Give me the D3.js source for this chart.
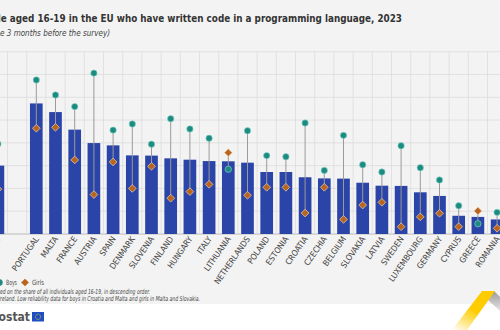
<!DOCTYPE html>
<html>
<head>
<meta charset="utf-8">
<script src="https://cdn.jsdelivr.net/npm/d3@7"></script>
<style>
  body { margin: 0; background: #fff; }
  svg { display: block; }
  text { font-family: 'Liberation Sans Narrow', 'DejaVu Sans Condensed', sans-serif; fill: #444; }
</style>
</head>
<body>
<svg width="500" height="330"></svg>
<script>
// chart data (share of individuals aged 16-19, %)
const countries = ['EU', '', 'PORTUGAL', 'MALTA', 'FRANCE', 'AUSTRIA', 'SPAIN', 'DENMARK', 'SLOVENIA',
  'FINLAND', 'HUNGARY', 'ITALY', 'LITHUANIA', 'NETHERLANDS', 'POLAND', 'ESTONIA', 'CROATIA',
  'CZECHIA', 'BELGIUM', 'SLOVAKIA', 'LATVIA', 'SWEDEN', 'LUXEMBOURG', 'GERMANY', 'CYPRUS',
  'GREECE', 'ROMANIA'];
const totalValues = [30.0, null, 57.3, 53.5, 45.8, 39.9, 38.9, 34.5, 34.4, 33.2, 32.6, 32.0, 31.9,
  31.3, 27.2, 27.2, 24.9, 24.4, 24.3, 22.5, 21.2, 21.1, 18.3, 16.7, 8.0, 7.5, 6.4];
const boysValues = [39.5, null, 67.6, 61.0, 55.9, 70.6, 45.6, 48.3, 39.4, 50.6, 46.1, 42.0, 28.4,
  45.3, 34.4, 33.9, 48.7, 27.9, 43.3, 30.4, 27.2, 38.7, 29.1, 23.7, 12.4, 4.5, 9.5];
const girlsValues = [19.7, null, 46.4, 46.8, 32.5, 17.3, 31.6, 20.0, 29.7, 15.7, 18.6, 21.8, 35.7,
  17.0, 20.5, 20.5, 9.2, 20.5, 6.4, 12.7, 13.9, 3.2, 7.5, 9.1, 3.2, 10.1, 2.5];
const yTicks = [0, 10, 20, 30, 40, 50, 60, 70, 80];

const title = 'Young people aged 16-19 in the EU who have written code in a programming language, 2023';
const subtitle = '(in the 3 months before the survey)';
const note1 = 'Countries ranked based on the share of all individuals aged 16-19, in descending order.';
const note2 = 'No data for Ireland. Low reliability data for boys in Croatia and Malta and girls in Malta and Slovakia.';

const svg = d3.select('svg');
const width = +svg.attr('width');
const height = +svg.attr('height');

const data = countries.map((c, i) => ({ country: c, total: totalValues[i], boys: boysValues[i], girls: girlsValues[i] }));

// backgrounds
svg.append('rect').attr('width', width).attr('height', 304).attr('fill', '#f3f3f3');
svg.append('rect').attr('y', 304).attr('width', width).attr('height', height - 304).attr('fill', '#fff');

const step = 19.2;
const x = d3.scaleBand()
  .domain(countries)
  .range([-11.7, -11.7 + countries.length * step])
  .padding(0);

const y = d3.scaleLinear()
  .domain([0, 80])
  .range([234, 51.7]);

const g = svg.append('g');

// horizontal grid
g.selectAll('.hgrid').data(yTicks)
  .enter().append('line')
    .attr('x1', 0).attr('x2', width)
    .attr('y1', d => y(d)).attr('y2', d => y(d))
    .attr('stroke', d => d === 0 ? '#aaa' : '#dcdcdc')
    .attr('stroke-width', 0.8);

// vertical grid at category boundaries
g.selectAll('.vgrid').data(countries)
  .enter().append('line')
    .attr('x1', d => x(d) + x.bandwidth()).attr('x2', d => x(d) + x.bandwidth())
    .attr('y1', y(80)).attr('y2', y(0))
    .attr('stroke', '#dcdcdc')
    .attr('stroke-width', 0.8);

const barW = x.bandwidth() * 0.66;
const cx = d => x(d.country) + x.bandwidth() / 2;
const valid = data.filter(d => d.total != null);

g.selectAll('.bar').data(valid)
  .enter().append('rect')
    .attr('x', d => cx(d) - barW / 2)
    .attr('width', barW)
    .attr('y', d => y(d.total))
    .attr('height', d => y(0) - y(d.total))
    .attr('fill', '#2a44a8');

// range lines boys-girls
g.selectAll('.range').data(valid)
  .enter().append('line')
    .attr('x1', cx).attr('x2', cx)
    .attr('y1', d => y(d.boys)).attr('y2', d => y(d.girls))
    .attr('stroke', '#9a9a9a')
    .attr('stroke-width', 1);

g.selectAll('.boys').data(valid)
  .enter().append('circle')
    .attr('cx', cx)
    .attr('cy', d => y(d.boys))
    .attr('r', 3.2)
    .attr('fill', '#1d8b80')
    .attr('stroke', '#8fd8d0')
    .attr('stroke-width', 0.6);

const diamond = d3.symbol().type(d3.symbolDiamond2).size(38);
g.selectAll('.girls').data(valid)
  .enter().append('path')
    .attr('d', diamond)
    .attr('transform', d => `translate(${cx(d)},${y(d.girls)})`)
    .attr('fill', '#b8651e')
    .attr('stroke', '#f0d2b0')
    .attr('stroke-width', 0.7);

// category labels
g.selectAll('.xlabel').data(data.filter(d => d.country !== ''))
  .enter().append('text')
    .attr('transform', d => `translate(${cx(d) + 3},239) rotate(-55)`)
    .attr('text-anchor', 'end')
    .attr('font-size', 8.3)
    .text(d => d.country);

// size a right-anchored text so its visible part (from `from`) spans 0..right
const fitEnd = (sel, str, from, right, base) => {
  const i = str.indexOf(from);
  const w = sel.node().getSubStringLength(i, str.length - i);
  sel.attr('font-size', base * right / w);
};
// same, but squeeze glyphs horizontally and keep the font height
const squeezeEnd = (sel, str, from, right) => {
  const i = str.indexOf(from);
  const w = sel.node().getSubStringLength(i, str.length - i);
  const full = sel.node().getComputedTextLength();
  sel.attr('textLength', full * right / w).attr('lengthAdjust', 'spacingAndGlyphs');
};

const titleText = svg.append('text')
  .attr('x', 402).attr('y', 22)
  .attr('text-anchor', 'end')
  .attr('font-weight', 'bold')
  .attr('font-size', 12)
  .style('fill', '#333')
  .text(title);
fitEnd(titleText, title, 'e aged', 402, 12);

const subText = svg.append('text')
  .attr('x', 110).attr('y', 36)
  .attr('text-anchor', 'end')
  .attr('font-style', 'italic')
  .attr('font-size', 8)
  .text(subtitle);
fitEnd(subText, subtitle, 'e 3 months', 110, 8);

// legend
svg.append('circle').attr('cx', -0.5).attr('cy', 282.5).attr('r', 3.2).attr('fill', '#1d8b80');
svg.append('text').attr('x', 6).attr('y', 285).attr('font-size', 7.2)
  .attr('textLength', 11).attr('lengthAdjust', 'spacingAndGlyphs').text('Boys');
svg.append('path').attr('d', diamond).attr('transform', 'translate(25,282.5)').attr('fill', '#b8651e');
svg.append('text').attr('x', 32).attr('y', 285).attr('font-size', 7.2)
  .attr('textLength', 12).attr('lengthAdjust', 'spacingAndGlyphs').text('Girls');

// notes
const n1 = svg.append('text').attr('x', 150).attr('y', 294).attr('text-anchor', 'end')
  .attr('font-style', 'italic').attr('font-size', 6.8).text(note1);
squeezeEnd(n1, note1, 'ed on the share', 150);
const n2 = svg.append('text').attr('x', 200).attr('y', 301).attr('text-anchor', 'end')
  .attr('font-style', 'italic').attr('font-size', 6.8).text(note2);
squeezeEnd(n2, note2, 'reland.', 200);

// eurostat logo
svg.append('text').attr('x', 30).attr('y', 321).attr('text-anchor', 'end')
  .attr('font-weight', 'bold').attr('font-size', 12)
  .style('fill', '#555').text('eurostat');
svg.append('rect').attr('x', 32).attr('y', 312).attr('width', 12).attr('height', 9.5).attr('fill', '#1f4fc4');
svg.append('circle').attr('cx', 38).attr('cy', 316.8).attr('r', 2.6)
  .attr('fill', 'none').attr('stroke', '#ffd200').attr('stroke-width', 0.8).attr('stroke-dasharray', '0.8 0.6');

// decorative corner chevron
const defs = svg.append('defs');
const yg = defs.append('linearGradient').attr('id', 'yg')
  .attr('x1', 0).attr('y1', 1).attr('x2', 0.6).attr('y2', 0);
yg.append('stop').attr('offset', 0).attr('stop-color', '#ffcc00').attr('stop-opacity', 0);
yg.append('stop').attr('offset', 0.6).attr('stop-color', '#ffcc00').attr('stop-opacity', 1);
const gg = defs.append('linearGradient').attr('id', 'gg')
  .attr('x1', 0).attr('y1', 0).attr('x2', 0).attr('y2', 1);
gg.append('stop').attr('offset', 0).attr('stop-color', '#999');
gg.append('stop').attr('offset', 1).attr('stop-color', '#e6e6e6');
svg.append('polygon').attr('points', '494,291 500,297 500,311 488,300').attr('fill', 'url(#gg)');
svg.append('polygon').attr('points', '482,291 495,291 467,330 452,330').attr('fill', 'url(#yg)');
</script>
</body>
</html>
